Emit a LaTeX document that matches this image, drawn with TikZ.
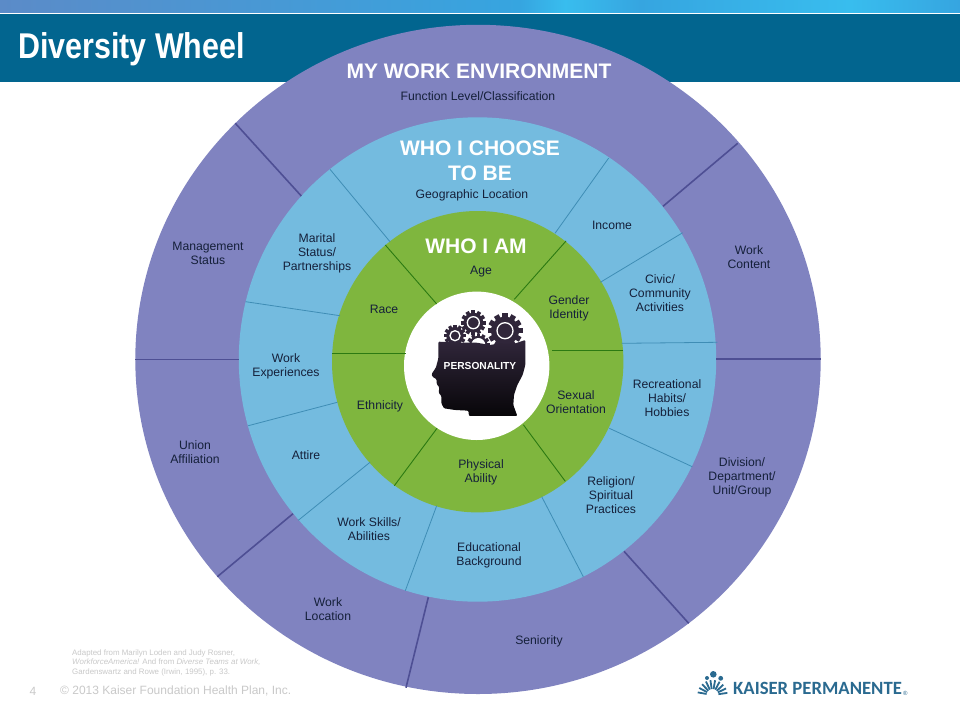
\documentclass[tikz,border=0pt]{standalone}
\usepackage{fontspec}
\setmainfont{Liberation Sans}
\newfontfamily\logofont{Carlito}
\usetikzlibrary{positioning}
\definecolor{outerband}{HTML}{8083C0}
\definecolor{middleband}{HTML}{74BBDF}
\definecolor{innerband}{HTML}{7FB63E}
\definecolor{headerblue}{HTML}{02658F}
\definecolor{outerline}{HTML}{4E4F94}
\definecolor{middleline}{HTML}{3F8DB5}
\definecolor{innerline}{HTML}{2C7A12}
\definecolor{labelink}{HTML}{15203A}
\definecolor{headdark}{HTML}{30263A}
\definecolor{footgray}{HTML}{C9C9C9}
\definecolor{logoblue}{HTML}{2A6A90}
\definecolor{stripa}{HTML}{5B8BC8}
\definecolor{stripb}{HTML}{36A5E0}
\definecolor{stripc}{HTML}{38BDEE}
\tikzset{
  wheellabel/.style={align=center, text=labelink, inner sep=0pt, font=\fontsize{12.2}{14}\selectfont},
  ringtitle/.style={align=center, text=white, inner sep=0pt, font=\fontsize{21}{25}\selectfont\bfseries},
  outerdiv/.style={draw=outerline, line width=1.6pt},
  middlediv/.style={draw=middleline, line width=0.8pt},
  innerdiv/.style={draw=innerline, line width=0.9pt},
  footnote/.style={anchor=west, text=footgray, inner sep=0pt, font=\fontsize{7.9}{9}\selectfont}
}
\newcommand{\drawgear}[4]{%
  \fill[headdark] (#1,#2) circle[radius=#3*0.8pt];
  \foreach \a in {0,30,...,330}
    \fill[headdark, shift={(#1,#2)}, rotate=\a] (-#3*0.15,0) rectangle (#3*0.15,#3);
  \draw[white, line width=1.3pt] (#1,#2) circle[radius=#4pt];
}
\begin{document}
\begin{tikzpicture}[x=1pt, y=-1pt]
\useasboundingbox (0,0) rectangle (960,720);
\fill[white] (0,0) rectangle (960,720);
\shade[left color=stripa, right color=stripb] (0,0) rectangle (520,12);
\shade[left color=stripb, right color=stripc] (520,0) rectangle (565,12);
\shade[left color=stripc, right color=stripb] (565,0) rectangle (640,12);
\shade[left color=stripb, right color=stripc] (640,0) rectangle (850,12);
\shade[left color=stripc, right color=stripb] (850,0) rectangle (960,12);
\fill[headerblue] (0,14) rectangle (960,82);
\node[anchor=west, inner sep=0pt, text=white, font=\fontsize{35.8}{40}\selectfont\bfseries] (title) at (18,49) {\scalebox{0.85}[1]{Diversity Wheel}};

\fill[outerband] (478,359.4) ellipse[x radius=342.7pt, y radius=334.6pt];
\fill[middleband] (477.5,359.5) ellipse[x radius=238.7pt, y radius=242.2pt];
\fill[innerband] (477.7,361.7) ellipse[x radius=145.7pt, y radius=150.7pt];
\fill[white] (476.7,365.8) ellipse[x radius=72.7pt, y radius=74.2pt];

\draw[outerdiv] (235.3,123.3)--(301.3,196);
\draw[outerdiv] (135.3,359.3)--(239,359.3);
\draw[outerdiv] (217.3,576.7)--(293,513.7);
\draw[outerdiv] (406,687.7)--(428.3,597.3);
\draw[outerdiv] (688.7,623.3)--(624,551.3);
\draw[outerdiv] (716,358.9)--(820.7,358.9);
\draw[outerdiv] (737.7,143.3)--(663,206.3);

\draw[middlediv] (330,169.3)--(390,241.7);
\draw[middlediv] (245.7,301.7)--(340,315.7);
\draw[middlediv] (248.3,425.7)--(337.3,402.3);
\draw[middlediv] (298.3,520.3)--(370,462.3);
\draw[middlediv] (405.3,590.7)--(436.7,505.7);
\draw[middlediv] (583.3,576.7)--(541.7,496.7);
\draw[middlediv] (692.3,466.7)--(609.3,428.3);
\draw[middlediv] (717.3,342.3)--(621.7,343.3);
\draw[middlediv] (682.7,232.7)--(600.3,282.3);
\draw[middlediv] (608.7,158)--(555,233.3);

\draw[innerdiv] (385.3,245)--(436.7,304);
\draw[innerdiv] (332,353.3)--(405.7,353.3);
\draw[innerdiv] (394.3,485.7)--(437,428.3);
\draw[innerdiv] (523.3,424.7)--(565.3,481.3);
\draw[innerdiv] (552.3,350.3)--(622.7,350.3);
\draw[innerdiv] (514.3,299.3)--(566,241);

\node[ringtitle] (envtitle) at (479,71) {MY WORK ENVIRONMENT};
\node[wheellabel] (function) at (478,96) {Function Level/Classification};
\node[ringtitle] (choosetitle) at (480,160.5) {WHO I CHOOSE\\TO BE};
\node[wheellabel] (geographic) at (472,195) {Geographic Location};
\node[ringtitle] (iamtitle) at (476,246) {WHO I AM};
\node[wheellabel] (age) at (481,272) {Age};

\node[wheellabel] (management) at (208,253) {Management\\Status};
\node[wheellabel] (union) at (195,452) {Union\\Affiliation};
\node[wheellabel] (location) at (328,609) {Work\\Location};
\node[wheellabel] (seniority) at (539,641) {Seniority};
\node[wheellabel] (division) at (742,477) {Division/\\Department/\\Unit/Group};
\node[wheellabel] (content) at (749,257) {Work\\Content};

\node[wheellabel] (marital) at (317,253) {Marital\\Status/\\Partnerships};
\node[wheellabel] (experiences) at (286,366) {Work\\Experiences};
\node[wheellabel] (attire) at (306,455) {Attire};
\node[wheellabel] (skills) at (369,529) {Work Skills/\\Abilities};
\node[wheellabel] (education) at (489,555.5) {Educational\\Background};
\node[wheellabel] (religion) at (611,495) {Religion/\\Spiritual\\Practices};
\node[wheellabel] (hobbies) at (667,398) {Recreational\\Habits/\\Hobbies};
\node[wheellabel] (civic) at (660,293) {Civic/\\Community\\Activities};
\node[wheellabel] (income) at (612,225) {Income};

\node[wheellabel] (race) at (384,309) {Race};
\node[wheellabel] (ethnicity) at (380,406) {Ethnicity};
\node[wheellabel] (ability) at (481,472.5) {Physical\\Ability};
\node[wheellabel] (sexual) at (576,402) {Sexual\\Orientation};
\node[wheellabel] (gender) at (569,308) {Gender\\Identity};

\drawgear{505}{330.7}{17.5}{8}
\drawgear{473.3}{322.7}{12.5}{6}
\drawgear{455}{335.7}{11}{5}
\drawgear{478.3}{345}{11.5}{4}
\fill[white] (478.3,345) circle[radius=7pt];

\begin{scope}[shift={(400,290)}, x=0.3333pt, y=-0.3333pt]
\shade[top color=headdark, bottom color=black!85!headdark, rounded corners=1pt]
  (115,155)--(115,205)--(108,232)--(95,252)--(97,260)--(110,268)--(110,282)--(118,292)--(116,308)
  --(124,318)--(124,340)--(132,355)--(165,360)--(205,362)--(207,378)--(352,378)--(340,345)--(342,315)
  --(352,285)--(368,255)--(376,225)--(376,150)--(340,162)--(300,160)--(270,165)--(230,158)--(180,158)--cycle;
\end{scope}
\node[inner sep=0pt, text=white, font=\fontsize{10.2}{11}\selectfont\bfseries] (personality) at (480,366) {PERSONALITY};

\node[footnote] (adapted) at (72,653) {Adapted from Marilyn Loden and Judy Rosner,};
\node[footnote] (workforce) at (72,662.5) {\itshape WorkforceAmerica! \upshape And from \itshape Diverse Teams at Work,};
\node[footnote] (rowe) at (72,672) {Gardenswartz and Rowe (Irwin, 1995), p. 33.};
\node[inner sep=0pt, text=footgray, font=\fontsize{12}{14}\selectfont] (pagenum) at (33,691) {4};
\node[anchor=west, inner sep=0pt, text=footgray, font=\fontsize{12}{14}\selectfont] (copyright) at (60,691) {© 2013 Kaiser Foundation Health Plan, Inc.};

\begin{scope}[shift={(712.5,695)}]
\foreach \a in {8,26,...,172}
  \draw[logoblue, line width=1.8pt] (\a:6pt)--(\a:15pt);
\end{scope}
\fill[logoblue] (713.3,674.3) circle[radius=3.3pt];
\fill[logoblue] (720.7,678.3) circle[radius=2.4pt];
\fill[logoblue] (707,678) circle[radius=2pt];
\node[anchor=west, inner sep=0pt, text=logoblue, font=\logofont\bfseries\fontsize{18.7}{20}\selectfont] (kaiser) at (733,688) {KAISER PERMANENTE};
\node[anchor=west, inner sep=0pt, text=logoblue, font=\fontsize{6}{7}\selectfont] (registered) at (903,693) {®};
\end{tikzpicture}
\end{document}
